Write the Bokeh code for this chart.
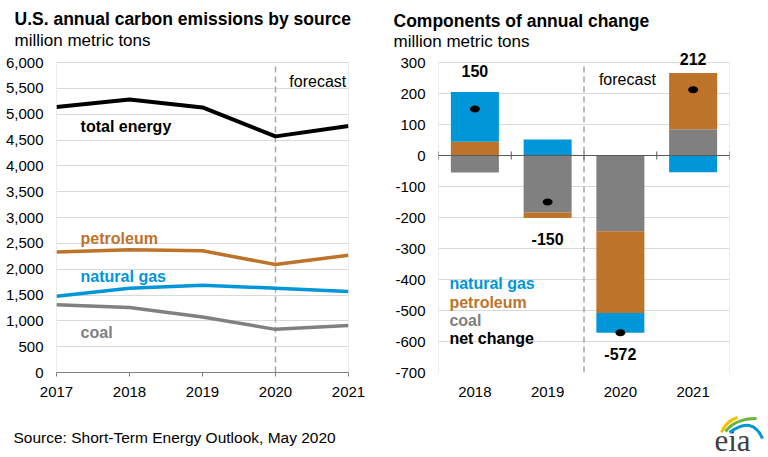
from bokeh.plotting import figure
from bokeh.models import Range1d, Label, Span, FixedTicker, NumeralTickFormatter
from bokeh.layouts import column, row
from bokeh.embed import file_html
from bokeh.resources import INLINE
from bokeh.core.properties import value

# ---------------- data ----------------
years = [2017, 2018, 2019, 2020, 2021]
total_energy = [5140, 5285, 5130, 4570, 4770]
petroleum = [2330, 2375, 2355, 2090, 2270]
natural_gas = [1475, 1630, 1690, 1630, 1570]
coal = [1310, 1260, 1075, 835, 910]

change_years = ["2018", "2019", "2020", "2021"]
chg_coal = [-55, -184, -244, 85]
chg_petroleum = [44, -18, -264, 181]
chg_natural_gas = [161, 52, -64, -54]
net_change = [150, -150, -572, 212]

left_yticks = list(range(0, 6001, 500))
right_yticks = list(range(-700, 301, 100))

left_title = "U.S. annual carbon emissions by source"
right_title = "Components of annual change"
units = "million metric tons"
source = "Source: Short-Term Energy Outlook, May 2020"

# ---------------- styles ----------------
BLUE = "#0096D7"
ORANGE = "#BD732A"
GRAY = "#808080"
BLACK = "#000000"
GRID = "#D9D9D9"
DASH = "#A6A6A6"
FONT = "Liberation Sans"


def style_axes(p):
    for ax in (p.xaxis[0], p.yaxis[0]):
        ax.major_label_text_font = FONT
        ax.major_label_text_color = "#000000"
        ax.minor_tick_line_color = None
    p.ygrid.grid_line_color = GRID
    p.xgrid.grid_line_color = None
    p.outline_line_color = None
    p.background_fill_color = "white"
    p.border_fill_color = "white"


def data_label(p, x, y, text, size="16px", bold=True, color=BLACK, align="left"):
    p.add_layout(Label(x=x, y=y, text=text, text_font=FONT, text_font_size=size,
                       text_font_style="bold" if bold else "normal",
                       text_color=color, text_baseline="middle", text_align=align))


W = 768
HEAD_H = 50
ROW_H = 360
FOOT_H = 47
TOP_PAD = 12   # pixels of head-room above the plotted value range

# ---------------- header (titles) ----------------
ph = figure(width=W, height=HEAD_H, x_range=Range1d(0, W), y_range=Range1d(HEAD_H, 0),
            output_backend="svg", toolbar_location=None, min_border=0)
ph.axis.visible = False
ph.grid.visible = False
ph.outline_line_color = None
ph.text(x=[14, 393], y=[18, 20], text=[left_title, right_title],
        text_font=value(FONT), text_font_size="17.5px", text_font_style="bold",
        text_baseline="middle", text_color=BLACK)
ph.text(x=[14, 393], y=[40, 41], text=[units, units],
        text_font=value(FONT), text_font_size="17px",
        text_baseline="middle", text_color=BLACK)

# ---------------- left chart ----------------
l_lo, l_hi = left_yticks[0], left_yticks[-1]
l_frame_px = ROW_H - 38
l_top = l_hi + TOP_PAD * (l_hi - l_lo) / (l_frame_px - TOP_PAD)
p1 = figure(width=383, height=ROW_H, x_range=Range1d(years[0], years[-1]),
            y_range=Range1d(l_lo, l_top),
            output_backend="svg", toolbar_location=None,
            min_border_left=56, min_border_right=35, min_border_top=0, min_border_bottom=38)
style_axes(p1)
p1.xaxis.ticker = FixedTicker(ticks=years)
p1.xaxis.major_label_text_font_size = "15px"
p1.xaxis.axis_line_color = "#7F7F7F"
p1.xaxis.major_tick_line_color = "#7F7F7F"
p1.xaxis.major_tick_in = 0
p1.xaxis.major_tick_out = 4
p1.xaxis.major_label_standoff = 10
p1.yaxis.ticker = FixedTicker(ticks=left_yticks)
p1.yaxis.formatter = NumeralTickFormatter(format="0,0")
p1.yaxis.major_label_text_font_size = "15px"
p1.yaxis.axis_line_color = None
p1.yaxis.major_tick_line_color = None
p1.yaxis.major_tick_out = 0
p1.yaxis.major_tick_in = 0
p1.yaxis.major_label_standoff = 13

# frame sides and forecast divider
p1.segment(x0=[years[0], years[-1]], y0=[l_lo, l_lo], x1=[years[0], years[-1]], y1=[l_hi, l_hi],
           line_color=GRID, line_width=1)
p1.segment(x0=[2020], y0=[l_lo], x1=[2020], y1=[l_hi],
           line_color=DASH, line_width=1.5, line_dash="6 4")

p1.line(years, coal, line_width=3.5, line_color=GRAY)
p1.line(years, natural_gas, line_width=3.5, line_color=BLUE)
p1.line(years, petroleum, line_width=3.5, line_color=ORANGE)
p1.line(years, total_energy, line_width=4, line_color=BLACK)

data_label(p1, 2017.33, 4760, "total energy", color=BLACK)
data_label(p1, 2017.33, 2595, "petroleum", color=ORANGE)
data_label(p1, 2017.33, 1860, "natural gas", color=BLUE)
data_label(p1, 2017.33, 775, "coal", color=GRAY)
data_label(p1, 2020.19, 5630, "forecast", bold=False)

# ---------------- right chart ----------------
n = len(change_years)
xc = [i + 0.5 for i in range(n)]
y_lo, y_hi = right_yticks[0], right_yticks[-1]
r_top = y_hi + TOP_PAD * (y_hi - y_lo) / (l_frame_px - TOP_PAD)
p2 = figure(width=W - 383, height=ROW_H, x_range=Range1d(0, n), y_range=Range1d(y_lo, r_top),
            output_backend="svg", toolbar_location=None,
            min_border_left=55, min_border_right=39, min_border_top=0, min_border_bottom=38)
style_axes(p2)
p2.xaxis.ticker = FixedTicker(ticks=xc)
p2.xaxis.major_label_overrides = {x: y for x, y in zip(xc, change_years)}
p2.xaxis.major_label_text_font_size = "15px"
p2.xaxis.axis_line_color = None
p2.xaxis.major_tick_line_color = None
p2.xaxis.major_tick_in = 0
p2.xaxis.major_tick_out = 0
p2.xaxis.major_label_standoff = 14
p2.yaxis.ticker = FixedTicker(ticks=right_yticks)
p2.yaxis.major_label_overrides = {t: str(t) for t in right_yticks}
p2.yaxis.major_label_text_font_size = "15px"
p2.yaxis.axis_line_color = None
p2.yaxis.major_tick_line_color = None
p2.yaxis.major_tick_in = 0
p2.yaxis.major_tick_out = 0
p2.yaxis.major_label_standoff = 13

# plot-area frame sides and forecast divider (span only the -700..300 area)
p2.segment(x0=[0, n], y0=[y_lo, y_lo], x1=[0, n], y1=[y_hi, y_hi],
           line_color=GRID, line_width=1)
p2.segment(x0=[n / 2], y0=[y_lo], x1=[n / 2], y1=[y_hi],
           line_color=DASH, line_width=1.5, line_dash="6 4")

pos_base = [0] * n
neg_base = [0] * n
for vals, color in [(chg_coal, GRAY), (chg_petroleum, ORANGE), (chg_natural_gas, BLUE)]:
    bottoms, tops = [], []
    for i, v in enumerate(vals):
        if v >= 0:
            bottoms.append(pos_base[i])
            tops.append(pos_base[i] + v)
            pos_base[i] += v
        else:
            tops.append(neg_base[i])
            bottoms.append(neg_base[i] + v)
            neg_base[i] += v
    p2.vbar(x=xc, bottom=bottoms, top=tops, width=0.66, fill_color=color, line_color=None)

# zero line with category-boundary ticks
p2.add_layout(Span(location=0, dimension="width", line_color="#595959", line_width=1))
bounds = list(range(n + 1))
p2.segment(x0=bounds, y0=[-13] * len(bounds), x1=bounds, y1=[13] * len(bounds),
           line_color="#595959", line_width=1)

p2.ellipse(x=xc, y=net_change, width=10, height=7, width_units="screen",
           height_units="screen", fill_color=BLACK, line_color=None)

for i, v in enumerate(net_change):
    if v >= 0:
        ly = min(pos_base[i] + 68, r_top - 28)
    else:
        ly = neg_base[i] - 68
    data_label(p2, xc[i], ly, str(v), align="center")

data_label(p2, 2.205, 244, "forecast", bold=False)
data_label(p2, 0.15, -413, "natural gas", color=BLUE)
data_label(p2, 0.15, -473, "petroleum", color=ORANGE)
data_label(p2, 0.15, -532, "coal", color=GRAY)
data_label(p2, 0.15, -590, "net change", color=BLACK)

# ---------------- footer ----------------
pf = figure(width=W, height=FOOT_H, x_range=Range1d(0, W), y_range=Range1d(FOOT_H, 0),
            output_backend="svg", toolbar_location=None, min_border=0)
pf.axis.visible = False
pf.grid.visible = False
pf.outline_line_color = None
pf.text(x=[13], y=[26.5], text=[source],
        text_font=value(FONT), text_font_size="15.5px",
        text_baseline="middle", text_color="#000000")
pf.text(x=[714], y=[30], text=["eia"], text_font=value("Liberation Serif"),
        text_font_size="31px", text_baseline="middle", text_color="#3F3F3F")
pf.quadratic(x0=[721], y0=[22], x1=[737], y1=[7], cx=[725], cy=[11],
             line_color="#F2C200", line_width=3)
pf.quadratic(x0=[725], y0=[21], x1=[756], y1=[8], cx=[735], cy=[8],
             line_color="#6AB43E", line_width=3)
pf.quadratic(x0=[729], y0=[22], x1=[762], y1=[28], cx=[752], cy=[5],
             line_color=BLUE, line_width=3)

layout = column(ph, row(p1, p2), pf)
open("out.html", "w").write(file_html(layout, INLINE))
